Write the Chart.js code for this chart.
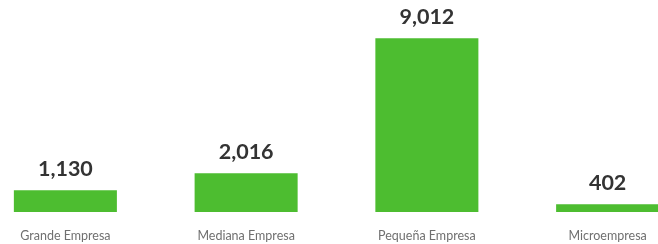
<!DOCTYPE html>
<html><head><meta charset="utf-8">
<script src="https://cdn.jsdelivr.net/npm/chart.js@4/dist/chart.umd.min.js"></script>
<style>
html,body{margin:0;padding:0;background:#fff;overflow:hidden;width:658px;height:244px;}
#c{position:absolute;left:-25px;top:0;}
</style></head><body>
<canvas id="c" width="723" height="244"></canvas>
<script>
const categories = ["Grande Empresa", "Mediana Empresa", "Pequeña Empresa", "Microempresa"];
const values = [1130, 2016, 9012, 402];

const valueLabels = {
  id: 'valueLabels',
  afterDatasetsDraw(chart) {
    const ctx = chart.ctx;
    const meta = chart.getDatasetMeta(0);
    ctx.save();
    ctx.font = 'bold 21.5px Lato, "Open Sans", sans-serif';
    ctx.fillStyle = '#333333';
    ctx.textAlign = 'center';
    ctx.textBaseline = 'alphabetic';
    meta.data.forEach((bar, i) => {
      ctx.fillText(values[i].toLocaleString('en-US'), bar.x, bar.y - 14);
    });
    ctx.restore();
  }
};

new Chart(document.getElementById('c'), {
  type: 'bar',
  data: {
    labels: categories,
    datasets: [{
      data: values,
      backgroundColor: '#4dbd30',
      borderWidth: 0,
      categoryPercentage: 1.0,
      barPercentage: 0.57
    }]
  },
  options: {
    responsive: false,
    maintainAspectRatio: false,
    animation: false,
    layout: { padding: 0 },
    plugins: { legend: { display: false }, tooltip: { enabled: false } },
    scales: {
      x: {
        grid: { display: false, drawTicks: false },
        border: { display: false },
        ticks: { color: '#707070', font: { family: 'Lato, "Open Sans", sans-serif', size: 12.5 }, padding: 16 },
        afterFit: (s) => { s.height = 32; }
      },
      y: {
        display: false,
        min: 0,
        max: 11000
      }
    }
  },
  plugins: [valueLabels]
});
</script>
</body></html>
